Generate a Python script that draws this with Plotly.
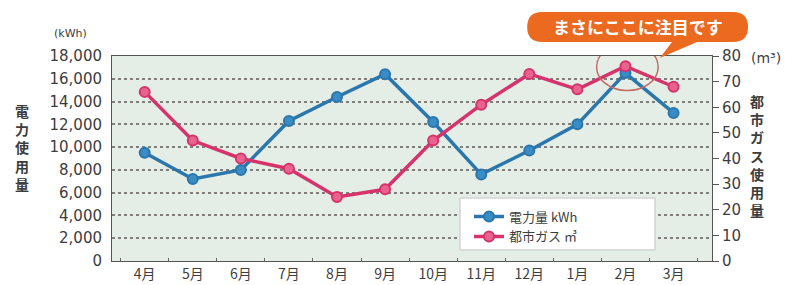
import plotly.graph_objects as go

months = ["4月", "5月", "6月", "7月", "8月", "9月", "10月", "11月", "12月", "1月", "2月", "3月"]
power_kwh = [9500, 7200, 8000, 12300, 14400, 16400, 12200, 7600, 9700, 12000, 16500, 13000]
gas_m3 = [66, 47, 40, 36, 25, 28, 47, 61, 73, 67, 76, 68]
left_ticks = [0, 2000, 4000, 6000, 8000, 10000, 12000, 14000, 16000, 18000]
right_ticks = [0, 10, 20, 30, 40, 50, 60, 70, 80]
focus_month = "2月"

FONT = "Noto Sans CJK JP"
NUMFONT = "DejaVu Sans, Noto Sans CJK JP"
BLUE = "#2a76ad"
RED = "#d6336c"
TXT = "#3d3d3d"
ORANGE = "#ec6a1f"

fig = go.Figure()
fig.add_trace(go.Scatter(
    x=months, y=power_kwh, name="電力量 kWh", mode="lines+markers",
    line=dict(color=BLUE, width=3.5),
    marker=dict(size=10, color="#3a8cc4", line=dict(color=BLUE, width=2)),
))
fig.add_trace(go.Scatter(
    x=months, y=gas_m3, name="都市ガス ㎥", mode="lines+markers", yaxis="y2",
    line=dict(color=RED, width=3.5),
    marker=dict(size=10, color="#e8648f", line=dict(color=RED, width=2)),
))

# highlight circle around the focus month
fi = months.index(focus_month)
fv = gas_m3[fi]
fig.add_shape(type="circle", xref="x", yref="y2",
              x0=fi - 0.6, x1=fi + 0.68, y0=fv - 9.5, y1=fv + 9.0,
              line=dict(color="#c46a60", width=1.5))

# legend box
fig.add_shape(type="rect", xref="paper", yref="paper",
              x0=0.58, x1=0.905, y0=0.054, y1=0.307,
              fillcolor="white", line=dict(color="#c4c4c4", width=1), layer="above")

# callout bubble
fig.add_shape(type="path", xref="paper", yref="paper",
              path=("M 0.717,1.068 L 1.035,1.068 Q 1.06,1.068 1.06,1.1415 "
                    "Q 1.06,1.215 1.035,1.215 L 0.717,1.215 Q 0.692,1.215 0.692,1.1415 "
                    "Q 0.692,1.068 0.717,1.068 Z"),
              fillcolor=ORANGE, line=dict(width=0))
fig.add_shape(type="path", xref="paper", yref="paper",
              path="M 0.935,1.075 L 0.913,0.99 L 0.98,1.075 Z",
              fillcolor=ORANGE, line=dict(width=0))
fig.add_annotation(xref="paper", yref="paper", x=0.876, y=1.1415, xanchor="center", yanchor="middle",
                   text="<b>まさにここに注目です</b>", showarrow=False,
                   font=dict(family=FONT, size=17, color="white"))

# axis unit labels & titles
fig.add_annotation(xref="paper", yref="paper", x=-0.07, y=1.112, xanchor="center", yanchor="middle",
                   text="(kWh)", showarrow=False, font=dict(family=NUMFONT, size=11, color=TXT))
fig.add_annotation(xref="paper", yref="paper", x=1.062, y=0.99, xanchor="left", yanchor="middle",
                   text="(m³)", showarrow=False, font=dict(family=NUMFONT, size=14, color=TXT))
fig.add_annotation(xref="paper", yref="paper", x=-0.15, y=0.556, xanchor="center", yanchor="middle",
                   text="<b>電<br>力<br>使<br>用<br>量</b>", showarrow=False,
                   font=dict(family=FONT, size=14, color=TXT))
fig.add_annotation(xref="paper", yref="paper", x=1.075, y=0.517, xanchor="center", yanchor="middle",
                   text="<b>都<br>市<br>ガ<br>ス<br>使<br>用<br>量</b>", showarrow=False,
                   font=dict(family=FONT, size=14, color=TXT))

fig.update_layout(
    width=794, height=285,
    margin=dict(l=112, r=82, t=56, b=24),
    paper_bgcolor="white", plot_bgcolor="#e4eee6",
    font=dict(family=FONT, color=TXT),
    showlegend=True,
    legend=dict(x=0.595, y=0.29, xanchor="left", yanchor="top",
                bgcolor="rgba(0,0,0,0)", borderwidth=0, tracegroupgap=0,
                font=dict(family=FONT, size=13, color=TXT)),
    xaxis=dict(type="category", range=[-0.68, 11.8], showgrid=False, automargin=False,
               showline=True, linecolor="#555", linewidth=1, mirror=True,
               ticks="inside", ticklen=3, tickcolor="#666", tickson="boundaries",
               tickfont=dict(family=FONT, size=14, color=TXT)),
    yaxis=dict(range=[0, 18000], tickvals=left_ticks, tickformat=",d", automargin=False,
               showgrid=True, gridcolor="#7e7e7a", gridwidth=1.5, griddash="dot",
               showline=True, linecolor="#555", mirror=True, zeroline=False,
               ticklabelstandoff=6,
               tickfont=dict(family=NUMFONT, size=15, color=TXT), ticks=""),
    yaxis2=dict(range=[0, 80], tickvals=right_ticks, overlaying="y", side="right",
                showgrid=False, zeroline=False, ticks="outside", ticklen=6, tickcolor="#555",
                automargin=False,
                tickfont=dict(family=NUMFONT, size=15, color=TXT)),
)

fig.write_html("out.html", config={"displayModeBar": False},
               post_script="document.body.style.margin='0';")
